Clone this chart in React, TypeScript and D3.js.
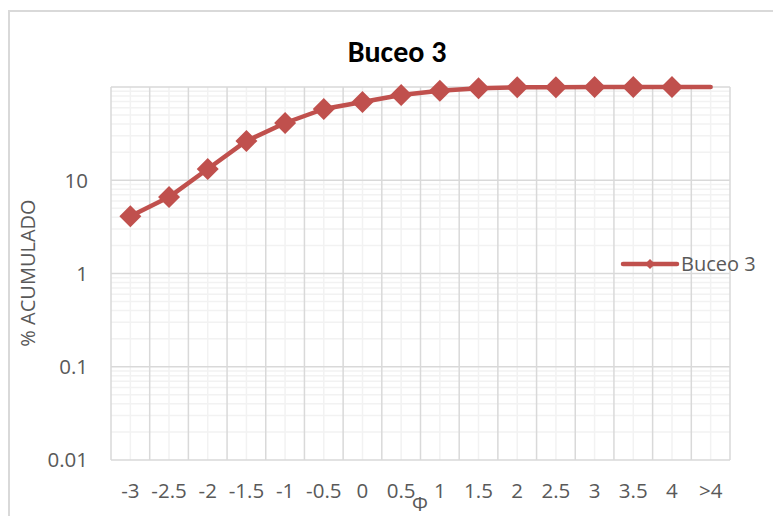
import React from "react";
import * as d3 from "d3";

const categories = ["-3", "-2.5", "-2", "-1.5", "-1", "-0.5", "0", "0.5", "1", "1.5", "2", "2.5", "3", "3.5", "4", ">4"];
const values = [4.1, 6.6, 13.2, 26.4, 41.1, 58.1, 69, 82, 91.2, 96.8, 99.2, 99.6, 99.8, 99.9, 100, 100];
const showMarker = [true, true, true, true, true, true, true, true, true, true, true, true, true, true, true, false];
const yTicks = [0.01, 0.1, 1, 10];
const seriesName = "Buceo 3";
const title = "Buceo 3";
const xTitle = "Φ";
const yTitle = "% ACUMULADO";

const W = 773, H = 516;
const left = 111, right = 730, top = 87, bottom = 460;
const FONT = "'Open Sans', 'Liberation Sans', Arial, sans-serif";
const TITLE_FONT = "Carlito, 'Liberation Sans', Arial, sans-serif";
const RED = "#C0504D";

export default function App() {
  const x = d3.scaleBand<string>().domain(categories).range([left, right]).padding(0);
  const y = d3.scaleLog().domain([0.01, 100]).range([bottom, top]);
  const cx = (c: string) => (x(c) as number) + x.bandwidth() / 2;

  const minorY: number[] = [];
  for (let e = -2; e < 2; e++) {
    for (let k = 2; k <= 9; k++) minorY.push(k * Math.pow(10, e));
  }
  const majorY = [0.01, 0.1, 1, 10, 100];

  const line = d3.line<number>()
    .x((_, i) => cx(categories[i]))
    .y((v) => y(v));

  const diamond = (px: number, py: number, r: number) =>
    `M${px},${py - r}L${px + r},${py}L${px},${py + r}L${px - r},${py}Z`;

  return (
    <svg width={W} height={H} style={{ position: "absolute", left: 0, top: 0, background: "#fff" }} fontFamily={FONT}>
      <rect x={9} y={11} width={W} height={H} fill="#fff" stroke="#D9D9D9" strokeWidth={2} />
      {minorY.map((v, i) => (
        <line key={"mh" + i} x1={left} x2={right} y1={y(v)} y2={y(v)} stroke="#F2F2F2" strokeWidth={1.5} />
      ))}
      {categories.map((c) => (
        <line key={"mv" + c} x1={cx(c)} x2={cx(c)} y1={top} y2={bottom} stroke="#F2F2F2" strokeWidth={1.5} />
      ))}
      {majorY.map((v) => (
        <line key={"Mh" + v} x1={left} x2={right} y1={y(v)} y2={y(v)} stroke="#D9D9D9" strokeWidth={1.5} />
      ))}
      {categories.concat(["__end"]).map((c, i) => {
        const px = i < categories.length ? (x(c) as number) : right;
        return <line key={"Mv" + i} x1={px} x2={px} y1={top} y2={bottom} stroke="#D9D9D9" strokeWidth={1.5} />;
      })}
      <path d={line(values) || ""} fill="none" stroke={RED} strokeWidth={4.5} strokeLinejoin="round" strokeLinecap="round" />
      {values.map((v, i) =>
        showMarker[i] ? <path key={"m" + i} d={diamond(cx(categories[i]), y(v), 11)} fill={RED} /> : null
      )}
      {yTicks.map((v) => (
        <text key={"yt" + v} x={88} y={y(v)} dy="0.36em" textAnchor="end" fontSize={20.5} fill="#595959">
          {String(v)}
        </text>
      ))}
      {categories.map((c) => (
        <text key={"xt" + c} x={cx(c)} y={498} textAnchor="middle" fontSize={20.5} fill="#595959">
          {c}
        </text>
      ))}
      <text x={420} y={511} textAnchor="middle" fontSize={20} fill="#595959">{xTitle}</text>
      <text transform={`translate(35,${273}) rotate(-90)`} textAnchor="middle" fontSize={20} fill="#595959">
        {yTitle}
      </text>
      <text x={397} y={62} textAnchor="middle" fontSize={30} fontWeight="bold" fill="#000" fontFamily={TITLE_FONT}>{title}</text>
      <line x1={623} x2={677} y1={264} y2={264} stroke={RED} strokeWidth={4.5} strokeLinecap="round" />
      <path d={diamond(650, 264, 5)} fill={RED} />
      <text x={681} y={264} dy="0.36em" fontSize={20} fill="#595959">{seriesName}</text>
    </svg>
  );
}
